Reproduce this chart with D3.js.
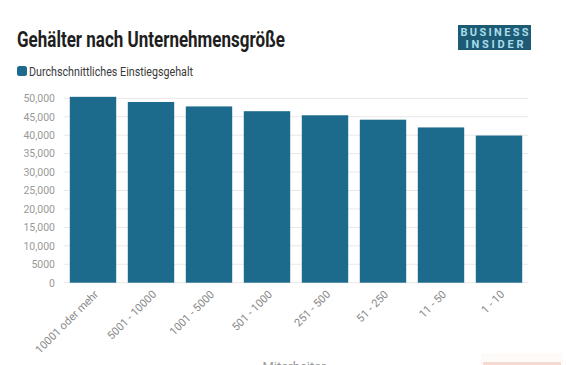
<!DOCTYPE html>
<html><head><meta charset="utf-8">
<script src="https://cdn.jsdelivr.net/npm/d3@7"></script>
<style>
html,body{margin:0;padding:0;background:#fff;}
svg{display:block;font-family:Roboto,"Noto Sans",sans-serif;}
</style></head>
<body><svg id="c" width="569" height="365"></svg>
<script>
const categories = ["10001 oder mehr","5001 - 10000","1001 - 5000","501 - 1000","251 - 500","51 - 250","11 - 50","1 - 10"];
const values = [50400, 49000, 47800, 46500, 45400, 44200, 42100, 39900];
const yTicks = [0,5000,10000,15000,20000,25000,30000,35000,40000,45000,50000];
const yTickLabels = ["0","5000","10,000","15,000","20,000","25,000","30,000","35,000","40,000","45,000","50,000"];
const seriesName = "Durchschnittliches Einstiegsgehalt";
const title = "Gehälter nach Unternehmensgröße";
const xTitle = "Mitarbeiter";

const svg = d3.select("#c");
const color = "#1c6a8c";

const x = d3.scaleBand().domain(categories).range([64, 528]).paddingInner(0.2).paddingOuter(0.1);
const y = d3.scaleLinear().domain([0, 50000]).range([282.7, 98.3]);

// title
svg.append("text").attr("x",17).attr("y",47).attr("font-size",22).attr("font-weight",700)
  .attr("fill","#1e1e1e").attr("textLength",268).attr("lengthAdjust","spacingAndGlyphs").text(title);

// logo
const logo = svg.append("g");
logo.append("rect").attr("x",458).attr("y",25).attr("width",73).attr("height",25).attr("fill","#1d5b74");
logo.append("text").attr("x",494.5).attr("y",36).attr("text-anchor","middle").attr("font-size",11).attr("font-weight",700)
  .attr("fill","#a9dbe9").attr("textLength",68).attr("lengthAdjust","spacing").text("BUSINESS");
logo.append("text").attr("x",494.5).attr("y",48).attr("text-anchor","middle").attr("font-size",11).attr("font-weight",700)
  .attr("fill","#a9dbe9").attr("textLength",58).attr("lengthAdjust","spacing").text("INSIDER");

// legend
svg.append("rect").attr("x",17).attr("y",66).attr("width",10).attr("height",10).attr("rx",2.5).attr("fill",color);
svg.append("text").attr("x",29).attr("y",75.5).attr("font-size",13).attr("fill","#3a3a3a")
  .attr("textLength",164).attr("lengthAdjust","spacingAndGlyphs").text(seriesName);

// gridlines
svg.append("g").selectAll("line").data(yTicks).join("line")
  .attr("x1",64).attr("x2",528).attr("y1",d=>y(d)).attr("y2",d=>y(d))
  .attr("stroke","#e8e8e8").attr("stroke-width",1);

// y axis
const yAxis = d3.axisLeft(y).tickValues(yTicks).tickFormat((d,i)=>yTickLabels[i]).tickSize(0).tickPadding(0);
const gy = svg.append("g").attr("transform","translate(55,0)").call(yAxis);
gy.select(".domain").remove();
gy.selectAll("text").attr("font-size",10.5).attr("fill","#999").attr("font-family","Roboto,sans-serif");

// bars
svg.append("g").selectAll("rect").data(values).join("rect")
  .attr("x",(d,i)=>x(categories[i])).attr("width",x.bandwidth())
  .attr("y",d=>y(d)).attr("height",d=>y(0)-y(d)).attr("fill",color);

// x axis
const xAxis = d3.axisBottom(x).tickSize(0).tickPadding(0);
const gx = svg.append("g").attr("transform","translate(0,283)").call(xAxis);
gx.select(".domain").remove();
gx.selectAll("text").attr("font-size",11).attr("fill","#888").attr("font-family","Roboto,sans-serif")
  .attr("text-anchor","end").attr("dy",0)
  .attr("transform","translate(6,12) rotate(-45)");

// x title (partly cut off at the bottom, as in the reference)
svg.append("text").attr("x",294).attr("y",371).attr("text-anchor","middle").attr("font-size",13).attr("fill","#999").text(xTitle);

// bottom-right button remnant
svg.append("rect").attr("x",481).attr("y",353).attr("width",82).attr("height",12).attr("fill","#fefaf8");
svg.append("rect").attr("x",483).attr("y",362).attr("width",78).attr("height",3).attr("fill","#f6d8d2");
</script></body></html>
